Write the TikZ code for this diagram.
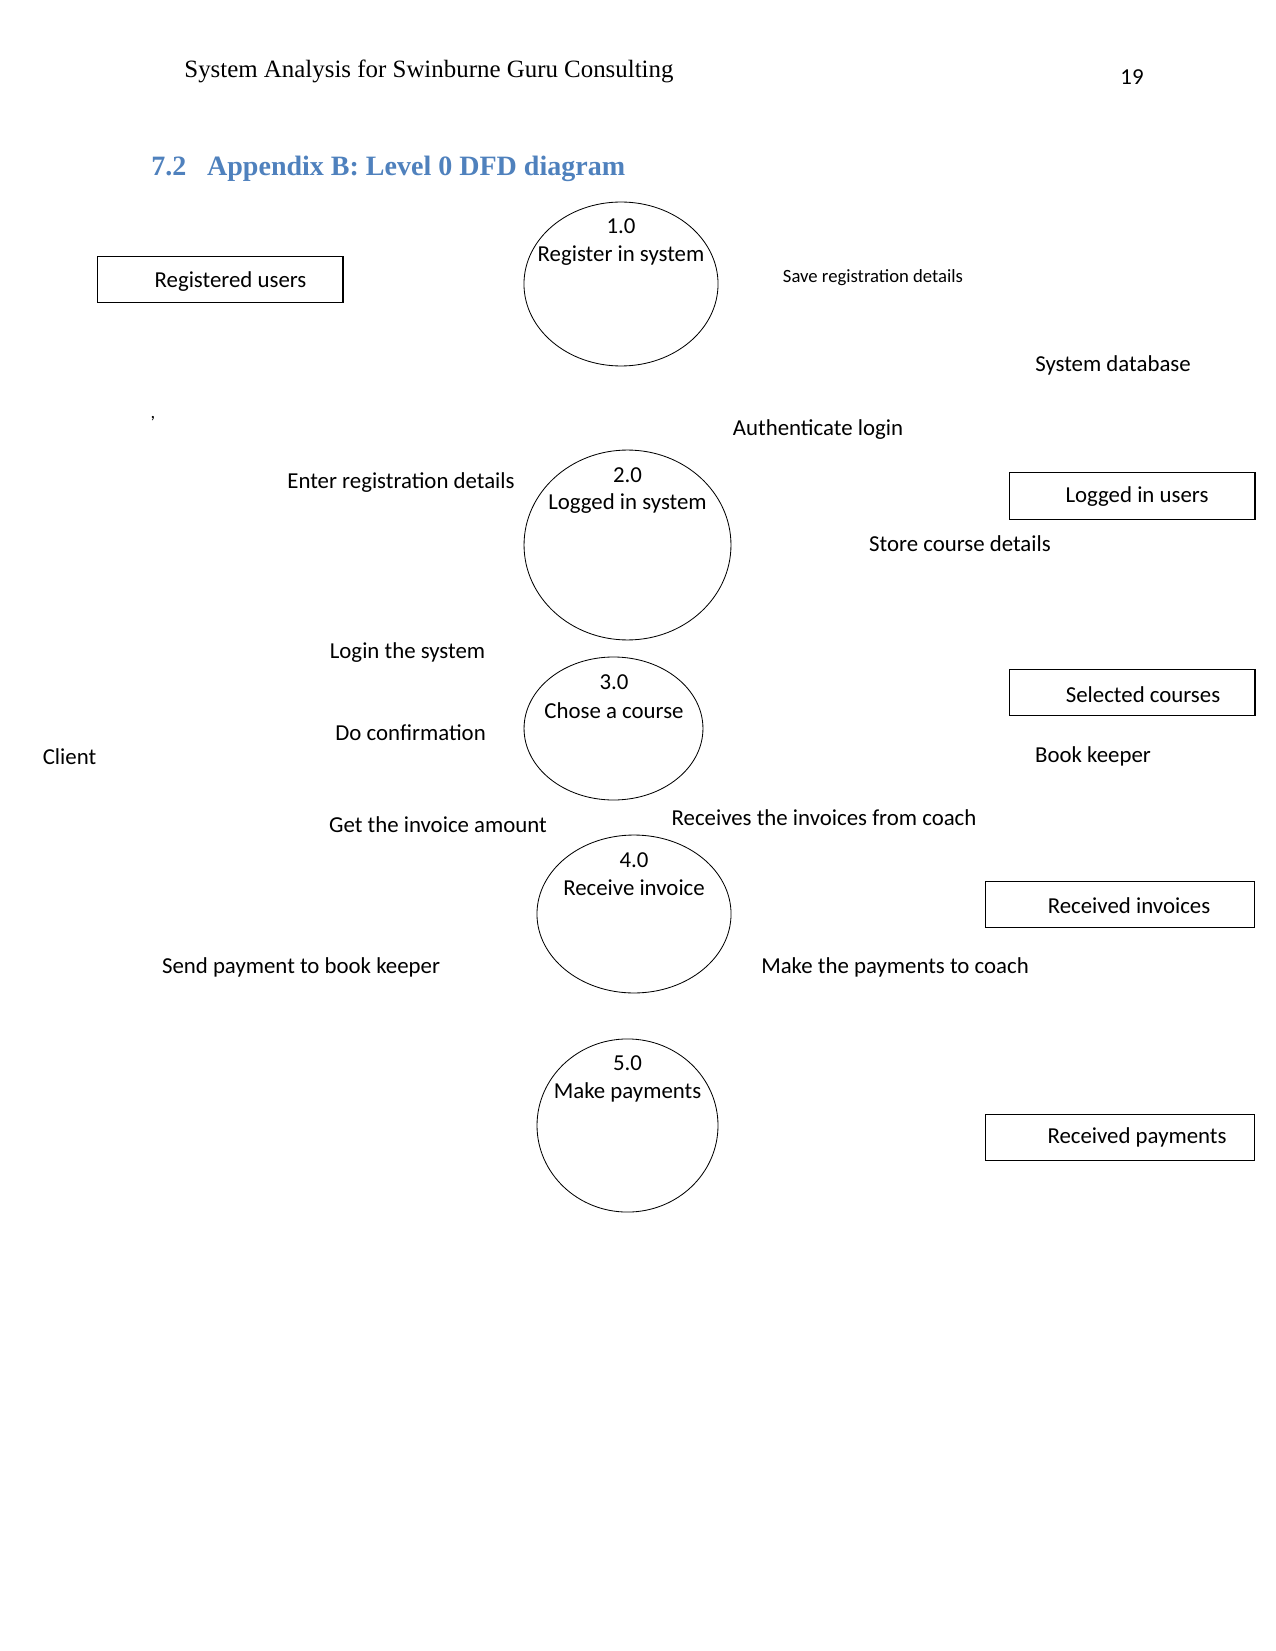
\documentclass[tikz,border=0pt]{standalone}
\usepackage{fontspec}
\setmainfont{Carlito}
\newfontfamily\serifhd{Liberation Serif}
\usetikzlibrary{shapes.geometric}

\begin{document}
\begin{tikzpicture}[x=0.4818pt, y=-0.4818pt,
    txt/.style={inner sep=0pt, yshift=-1.2pt, font=\fontsize{11}{13}\selectfont},
    proc/.style={draw, ellipse, thin, inner sep=0pt},
    store/.style={draw, rectangle, inner sep=0pt, line width=0.5pt}]
            % page
            \useasboundingbox (0,0) rectangle (1275,1651);
            
            % header and heading
            \node[anchor=west, inner sep=0pt, font=\serifhd\fontsize{12}{14}\selectfont] (hdr) at (184,71) {System Analysis for Swinburne Guru Consulting};
            \node[txt] (pg) at (1132,75) {19};
            \node[anchor=west, inner sep=0pt, text={rgb,255:red,79;green,129;blue,189}, font=\serifhd\bfseries\fontsize{13.5}{16}\selectfont] (ttl) at (151,169) {7.2\hspace{10pt}Appendix B: Level 0 DFD diagram};
            
            % processes
            \node[proc, minimum width=93.5pt, minimum height=79pt] (p1) at (621,284) {};
            \node[txt] (n1) at (621,224) {1.0};
            \node[txt] (t1) at (621,253) {Register in system};
            
            \node[proc, minimum width=99.7pt, minimum height=91.5pt] (p2) at (627.5,545) {};
            \node[txt] (n2) at (627.5,473) {2.0};
            \node[txt] (t2) at (627.5,501) {Logged in system};
            
            \node[proc, minimum width=86.2pt, minimum height=68.9pt] (p3) at (613.5,728.5) {};
            \node[txt] (n3) at (614,680) {3.0};
            \node[txt] (t3) at (614,708) {Chose a course};
            
            \node[proc, minimum width=93.5pt, minimum height=76.1pt] (p4) at (634,914) {};
            \node[txt] (n4) at (634,858) {4.0};
            \node[txt] (t4) at (634,885.5) {Receive invoice};
            
            \node[proc, minimum width=87.2pt, minimum height=83.4pt] (p5) at (627.5,1125.5) {};
            \node[txt] (n5) at (627.5,1061) {5.0};
            \node[txt] (t5) at (627.5,1090) {Make payments};
            
            % data stores
            \node[store, minimum width=118.5pt, minimum height=22.6pt] (ru) at (220,279.5) {};
            \node[txt] (ru-t) at (230.5,279) {Registered users};
            \node[store, minimum width=118.5pt, minimum height=22.2pt] (lu) at (1132,496) {};
            \node[txt] (lu-t) at (1137,494) {Logged in users};
            \node[store, minimum width=118.5pt, minimum height=22.6pt] (sc) at (1132,692.5) {};
            \node[txt] (sc-t) at (1143,692) {Selected courses};
            \node[store, minimum width=129.8pt, minimum height=22.6pt] (ri) at (1120.25,904.5) {};
            \node[txt] (ri-t) at (1129,903) {Received invoices};
            \node[store, minimum width=129.8pt, minimum height=22.6pt] (rp) at (1120.25,1137.5) {};
            \node[txt] (rp-t) at (1137,1135) {Received payments};
            
            % entities
            \node[txt] (cl) at (69.5,754) {Client};
            \node[txt] (bk) at (1093,754) {Book keeper};
            \node[txt] (db) at (1113,363) {System database};
            
            % flow labels
            \node[txt, font=\fontsize{9}{11}\selectfont] (f1) at (873,275) {Save registration details};
            \node[txt] (f2) at (818,427.5) {Authenticate login};
            \node[txt] (f3) at (401,480) {Enter registration details};
            \node[txt] (f4) at (960,541) {Store course details};
            \node[txt] (f5) at (407.5,650) {Login the system};
            \node[txt] (f6) at (410.6,730) {Do confirmation};
            \node[txt] (f7) at (438,822) {Get the invoice amount};
            \node[txt] (f8) at (824,815) {Receives the invoices from coach};
            \node[txt] (f9) at (301,964.5) {Send payment to book keeper};
            \node[txt] (f10) at (895,964.5) {Make the payments to coach};
            \node[txt, font=\fontsize{9}{11}\selectfont] (cm) at (153,416) {,};
        \end{tikzpicture}
\end{document}
